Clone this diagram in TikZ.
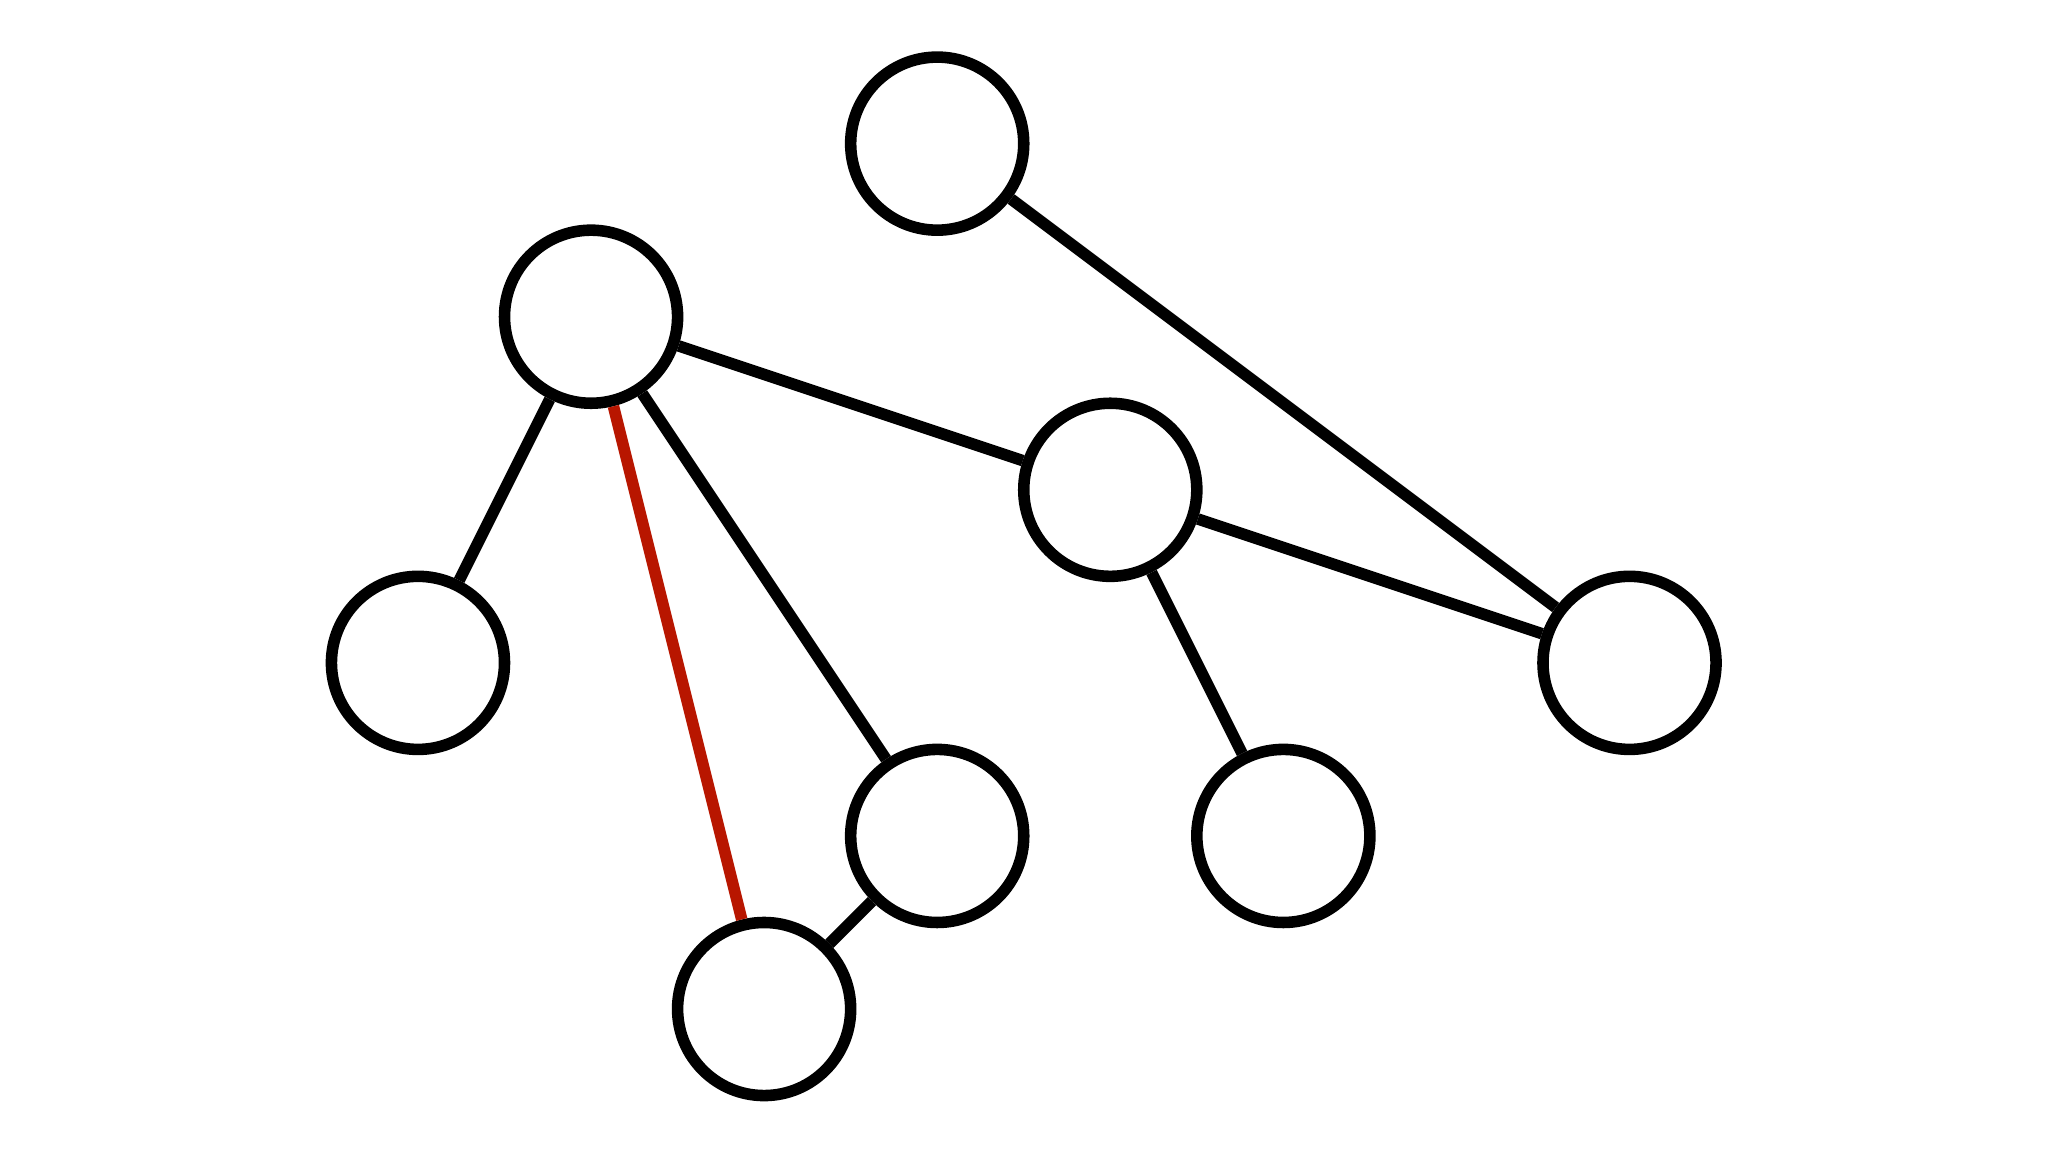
\documentclass[tikz,border=0pt]{standalone}
\definecolor{redge}{RGB}{184,22,0}
\tikzset{
  vert/.style={circle, draw=black, line width=1.9pt, minimum size=1.0cm, inner sep=0pt, fill=white},
  edge/.style={draw=black, line width=1.9pt},
  redline/.style={draw=redge, line width=1.9pt}
}
\begin{document}
\begin{tikzpicture}
\useasboundingbox (-2.415,0.830) rectangle (9.418,-5.826);
\node[vert] (A) at (3,0) {};
\node[vert] (B) at (1,-1) {};
\node[vert] (C) at (4,-2) {};
\node[vert] (D) at (0,-3) {};
\node[vert] (E) at (7,-3) {};
\node[vert] (F) at (3,-4) {};
\node[vert] (G) at (5,-4) {};
\node[vert] (H) at (2,-5) {};
\draw[edge] (A) -- (E);
\draw[edge] (B) -- (C);
\draw[edge] (C) -- (E);
\draw[edge] (B) -- (D);
\draw[edge] (B) -- (F);
\draw[edge] (F) -- (H);
\draw[edge] (C) -- (G);
\draw[redline] (B) -- (H);
\end{tikzpicture}
\end{document}
